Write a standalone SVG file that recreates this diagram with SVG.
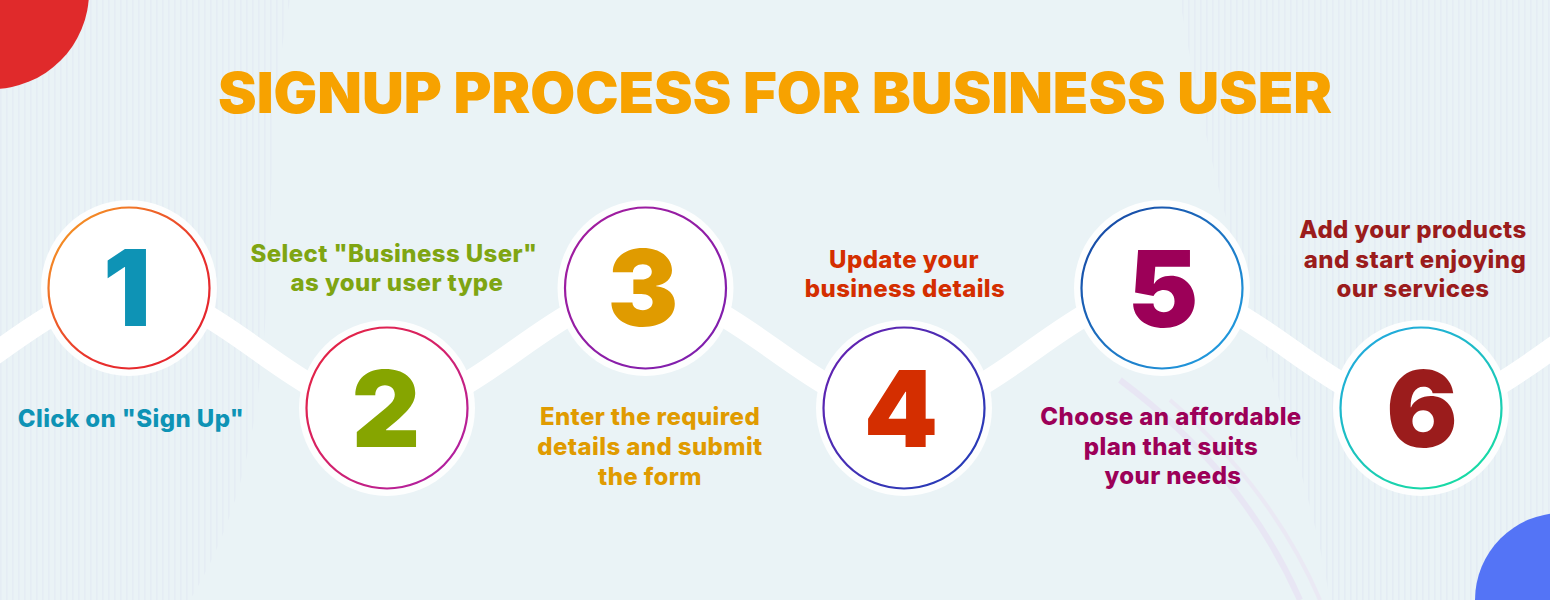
<svg xmlns="http://www.w3.org/2000/svg" width="1550" height="600" viewBox="0 0 1550 600">
<style>
.title{font-family:Inter,"Open Sans","Liberation Sans",sans-serif;font-weight:900;font-size:56px;fill:#f7a200;text-anchor:middle}
.lbl{font-family:Inter,"Open Sans","Liberation Sans",sans-serif;font-weight:800;font-size:24px;letter-spacing:0.4px;text-anchor:middle}
.num{font-family:Inter,"Open Sans","Liberation Sans",sans-serif;font-weight:900;font-size:106px;text-anchor:middle}
.halo{fill:#ffffff;opacity:0.9}
.disc{fill:#ffffff;stroke-width:2.2}
.wave{fill:none;stroke:#ffffff;stroke-width:22}
</style>
<defs>
<linearGradient id="g1" x1="0" y1="0" x2="1" y2="1"><stop offset="0" stop-color="#f7a823"/><stop offset="0.6" stop-color="#e8302c"/><stop offset="1" stop-color="#e3202e"/></linearGradient>
<linearGradient id="g2" x1="0" y1="0" x2="1" y2="1"><stop offset="0" stop-color="#e8243a"/><stop offset="0.5" stop-color="#d3216c"/><stop offset="1" stop-color="#a51fb2"/></linearGradient>
<linearGradient id="g3" x1="0" y1="0" x2="1" y2="1"><stop offset="0" stop-color="#a61c9c"/><stop offset="1" stop-color="#7a1fb0"/></linearGradient>
<linearGradient id="g4" x1="0" y1="0" x2="1" y2="1"><stop offset="0" stop-color="#6a1fb0"/><stop offset="1" stop-color="#1d3fb8"/></linearGradient>
<linearGradient id="g5" x1="0" y1="0" x2="1" y2="1"><stop offset="0" stop-color="#163f9e"/><stop offset="1" stop-color="#22a6e6"/></linearGradient>
<linearGradient id="g6" x1="0" y1="0" x2="0.6" y2="1"><stop offset="0" stop-color="#22a3e3"/><stop offset="1" stop-color="#18d9a6"/></linearGradient>
<pattern id="stripes" width="6" height="10" patternUnits="userSpaceOnUse"><rect x="0" y="0" width="1.6" height="10" fill="#d8def0"/></pattern>
</defs>
<rect width="1550" height="600" fill="#eaf3f6"/>
<g id="background" opacity="0.3">
<path d="M0 0 H290 C250 200 300 420 190 600 H0 Z" fill="url(#stripes)"/>
<path d="M1180 0 H1550 V600 H1330 C1300 420 1230 300 1180 0 Z" fill="url(#stripes)"/>
<path d="M1120 380 C1200 440 1260 510 1300 600" fill="none" stroke="#e2b8ee" stroke-width="6" opacity="0.7"/>
<path d="M1170 400 C1240 460 1290 530 1320 600" fill="none" stroke="#ecc8f0" stroke-width="4" opacity="0.7"/>
</g>
<circle id="corner-red" cx="-8" cy="-8" r="97" fill="#e02a2b"/>
<circle id="corner-blue" cx="1562" cy="600" r="87" fill="#5474f6"/>
<text id="title" class="title" x="775" y="113" textLength="1114" lengthAdjust="spacingAndGlyphs">SIGNUP PROCESS FOR BUSINESS USER</text>
<g id="connectors">
<path class="wave" d="M -129 410 C -39 410 39 290 129 290 C 219 290 297 410 387 410 C 477 410 555.5 290 645.5 290 C 735.5 290 814 410 904 410 C 994 410 1072 290 1162 290 C 1252 290 1331 410 1421 410 C 1511 410 1589 290 1679 290"/>
</g>
<g id="step1">
<circle class="halo" cx="129" cy="288" r="88"/>
<circle class="disc" cx="129" cy="288" r="80.5" stroke="url(#g1)"/>
<text class="num" x="127" y="326" fill="#0e93b5">1</text>
<text class="lbl" x="131" y="427" fill="#0e93b5">Click on "Sign Up"</text>
</g>
<g id="step2">
<circle class="halo" cx="387" cy="408" r="88"/>
<circle class="disc" cx="387" cy="408" r="80.5" stroke="url(#g2)"/>
<text class="num" x="386" y="447" fill="#86a500">2</text>
<text class="lbl" x="394" y="262" fill="#7fa512">Select "Business User"</text>
<text class="lbl" x="397" y="291" fill="#7fa512">as your user type</text>
</g>
<g id="step3">
<circle class="halo" cx="645.5" cy="288" r="88"/>
<circle class="disc" cx="645.5" cy="288" r="80.5" stroke="url(#g3)"/>
<text class="num" x="643" y="326" fill="#e09b00">3</text>
<text class="lbl" x="650" y="425" fill="#e09b00">Enter the required</text>
<text class="lbl" x="650" y="455" fill="#e09b00">details and submit</text>
<text class="lbl" x="650" y="485" fill="#e09b00">the form</text>
</g>
<g id="step4">
<circle class="halo" cx="904" cy="408" r="88"/>
<circle class="disc" cx="904" cy="408" r="80.5" stroke="url(#g4)"/>
<text class="num" x="901" y="447" fill="#d42e00">4</text>
<text class="lbl" x="904" y="268" fill="#d42e00">Update your</text>
<text class="lbl" x="905" y="297" fill="#d42e00">business details</text>
</g>
<g id="step5">
<circle class="halo" cx="1162" cy="288" r="88"/>
<circle class="disc" cx="1162" cy="288" r="80.5" stroke="url(#g5)"/>
<text class="num" x="1163" y="327" fill="#9c0058">5</text>
<text class="lbl" x="1171" y="425" fill="#9c0058">Choose an affordable</text>
<text class="lbl" x="1171" y="455" fill="#9c0058">plan that suits</text>
<text class="lbl" x="1173" y="484" fill="#9c0058">your needs</text>
</g>
<g id="step6">
<circle class="halo" cx="1421" cy="408" r="88"/>
<circle class="disc" cx="1421" cy="408" r="80.5" stroke="url(#g6)"/>
<text class="num" x="1422" y="447" fill="#9b1c1c">6</text>
<text class="lbl" x="1413" y="238" fill="#9b1c1c">Add your products</text>
<text class="lbl" x="1415" y="268" fill="#9b1c1c">and start enjoying</text>
<text class="lbl" x="1413" y="297" fill="#9b1c1c">our services</text>
</g>
</svg>
